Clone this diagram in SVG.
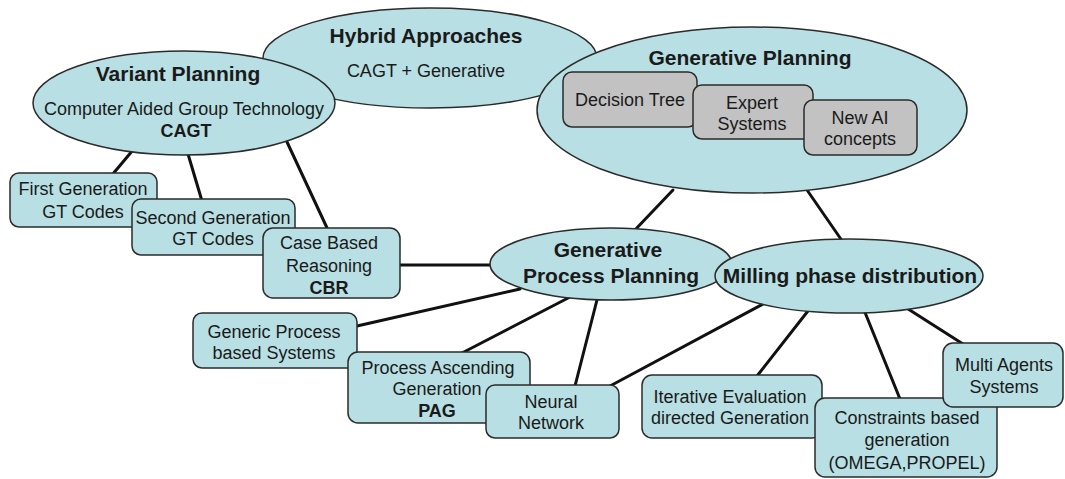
<svg xmlns="http://www.w3.org/2000/svg" width="1065" height="479" viewBox="0 0 1065 479">
<style>
.n{fill:#b8dfe3;stroke:#2b2b2b;stroke-width:1.5}
.g{fill:#c2c2c2;stroke:#2b2b2b;stroke-width:1.5}
.t{font-family:"Liberation Sans",Arial,sans-serif;font-size:18px;fill:#1a1a1a;text-anchor:middle}
.b{font-weight:bold}
.h{font-family:"Liberation Sans",Arial,sans-serif;font-size:21px;font-weight:bold;fill:#1a1a1a;text-anchor:middle}
.c{stroke:#111;stroke-width:3;fill:none;stroke-linecap:round}
</style>
<rect width="1065" height="479" fill="#ffffff"/>
<g id="connectors" class="c">
<line x1="133" y1="150" x2="112" y2="175"/>
<line x1="188" y1="154" x2="202" y2="201"/>
<line x1="287" y1="142" x2="328" y2="230"/>
<line x1="400" y1="265" x2="495" y2="265"/>
<line x1="673" y1="190" x2="633" y2="232"/>
<line x1="807" y1="190" x2="845" y2="245"/>
<line x1="357" y1="326" x2="520" y2="289"/>
<line x1="462" y1="353" x2="570" y2="297"/>
<line x1="575" y1="386" x2="598" y2="296"/>
<line x1="610" y1="386" x2="765" y2="303"/>
<line x1="757" y1="376" x2="815" y2="302"/>
<line x1="900" y1="399" x2="862" y2="305"/>
<line x1="963" y1="344" x2="905" y2="307"/>
</g>
<g id="hybrid">
<ellipse class="n" cx="430" cy="58" rx="167" ry="50"/>
<text class="h" x="426" y="43">Hybrid Approaches</text>
<text class="t" x="426" y="77">CAGT + Generative</text>
</g>
<g id="variant">
<ellipse class="n" cx="184" cy="103" rx="151" ry="52"/>
<text class="h" x="178" y="81">Variant Planning</text>
<text class="t" x="184" y="115">Computer Aided Group Technology</text>
<text class="t b" x="186" y="137">CAGT</text>
</g>
<g id="generative">
<ellipse class="n" cx="752" cy="110" rx="215" ry="83"/>
<text class="h" x="750" y="65">Generative Planning</text>
</g>
<g id="decision-tree">
<rect class="g" x="563" y="72" width="134" height="55" rx="9"/>
<text class="t" x="630" y="106">Decision Tree</text>
</g>
<g id="expert-systems">
<rect class="g" x="693" y="85" width="120" height="54" rx="9"/>
<text class="t" x="752" y="109">Expert</text>
<text class="t" x="752" y="130">Systems</text>
</g>
<g id="new-ai">
<rect class="g" x="804" y="100" width="113" height="55" rx="9"/>
<text class="t" x="860" y="124">New AI</text>
<text class="t" x="860" y="145">concepts</text>
</g>
<g id="first-gen">
<rect class="n" x="10" y="173" width="147" height="54" rx="9"/>
<text class="t" x="83" y="195">First Generation</text>
<text class="t" x="83" y="218">GT Codes</text>
</g>
<g id="second-gen">
<rect class="n" x="132" y="199" width="163" height="56" rx="9"/>
<text class="t" x="213" y="224">Second Generation</text>
<text class="t" x="213" y="245">GT Codes</text>
</g>
<g id="cbr">
<rect class="n" x="263" y="228" width="137" height="70" rx="10"/>
<text class="t" x="329" y="249">Case Based</text>
<text class="t" x="329" y="272">Reasoning</text>
<text class="t b" x="329" y="294">CBR</text>
</g>
<g id="gpp">
<ellipse class="n" cx="611" cy="264" rx="121" ry="36"/>
<text class="h" x="608" y="257">Generative</text>
<text class="h" x="611" y="283">Process Planning</text>
</g>
<g id="milling">
<ellipse class="n" cx="849" cy="276" rx="134" ry="37"/>
<text class="h" x="850" y="283">Milling phase distribution</text>
</g>
<g id="generic">
<rect class="n" x="193" y="313" width="164" height="55" rx="9"/>
<text class="t" x="274" y="338">Generic Process</text>
<text class="t" x="274" y="359">based Systems</text>
</g>
<g id="pag">
<rect class="n" x="348" y="352" width="182" height="71" rx="10"/>
<text class="t" x="438" y="374">Process Ascending</text>
<text class="t" x="437" y="395">Generation</text>
<text class="t b" x="437" y="417">PAG</text>
</g>
<g id="neural">
<rect class="n" x="486" y="385" width="133" height="53" rx="9"/>
<text class="t" x="551" y="408">Neural</text>
<text class="t" x="551" y="429">Network</text>
</g>
<g id="iterative">
<rect class="n" x="642" y="375" width="180" height="63" rx="10"/>
<text class="t" x="730" y="403">Iterative Evaluation</text>
<text class="t" x="730" y="424">directed Generation</text>
</g>
<g id="constraints">
<rect class="n" x="815" y="398" width="182" height="79" rx="10"/>
<text class="t" x="907" y="424">Constraints based</text>
<text class="t" x="907" y="446">generation</text>
<text class="t" x="907" y="469">(OMEGA,PROPEL)</text>
</g>
<g id="multi-agents">
<rect class="n" x="943" y="343" width="120" height="64" rx="10"/>
<text class="t" x="1004" y="371">Multi Agents</text>
<text class="t" x="1004" y="393">Systems</text>
</g>
</svg>
